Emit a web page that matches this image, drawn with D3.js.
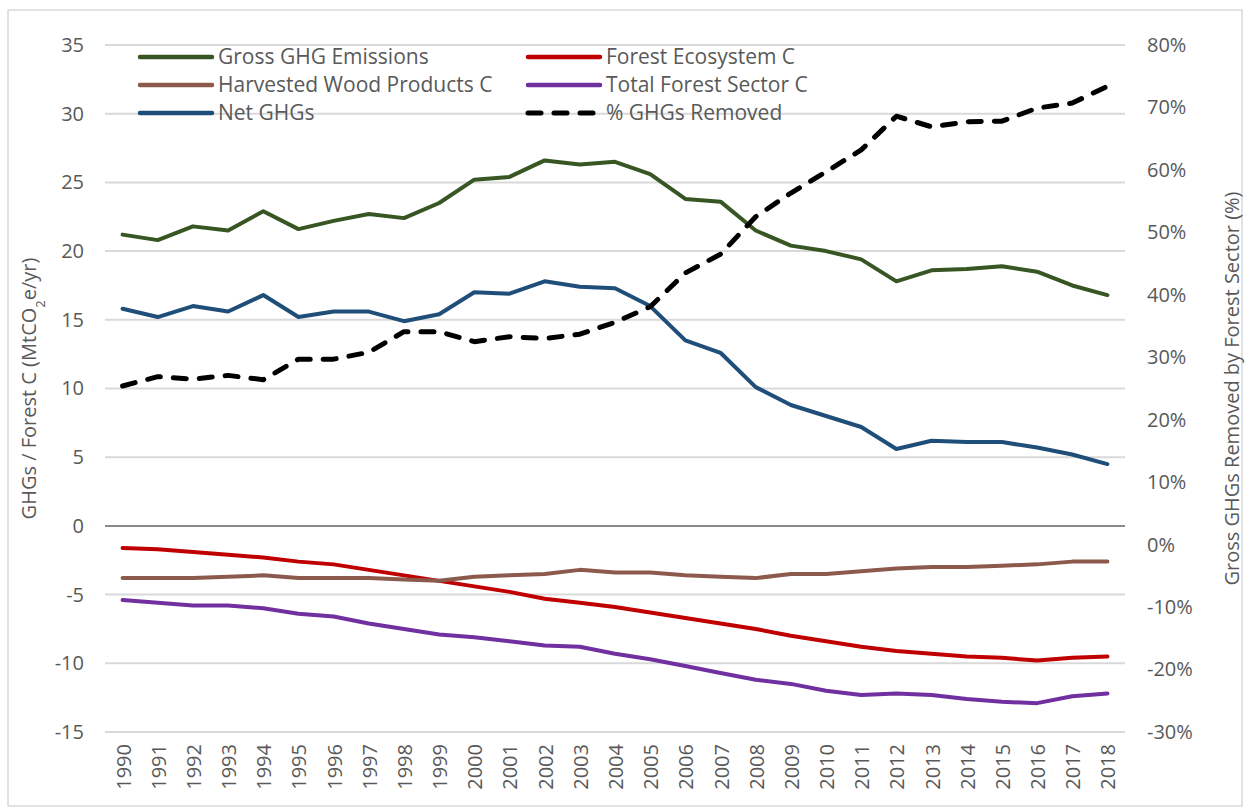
<!DOCTYPE html>
<html>
<head>
<meta charset="utf-8">
<script src="https://cdn.jsdelivr.net/npm/d3@7"></script>
<style>
    body { margin: 0; background: #fff; }
    text { font-family: "Open Sans", sans-serif; fill: #595959; }
</style>
</head>
<body>
<div id="chart"></div>
<script>

// * * * data * * *
let years = ["1990", "1991", "1992", "1993", "1994", "1995", "1996", "1997", "1998", "1999",
    "2000", "2001", "2002", "2003", "2004", "2005", "2006", "2007", "2008", "2009",
    "2010", "2011", "2012", "2013", "2014", "2015", "2016", "2017", "2018"];

let grossGHG = [21.2, 20.8, 21.8, 21.5, 22.9, 21.6, 22.2, 22.7, 22.4, 23.5,
    25.2, 25.4, 26.6, 26.3, 26.5, 25.6, 23.8, 23.6, 21.5, 20.4,
    20.0, 19.4, 17.8, 18.6, 18.7, 18.9, 18.5, 17.5, 16.8];

let netGHG = [15.8, 15.2, 16.0, 15.6, 16.8, 15.2, 15.6, 15.6, 14.9, 15.4,
    17.0, 16.9, 17.8, 17.4, 17.3, 16.0, 13.5, 12.6, 10.1, 8.8,
    8.0, 7.2, 5.6, 6.2, 6.1, 6.1, 5.7, 5.2, 4.5];

let forestEcoC = [-1.6, -1.7, -1.9, -2.1, -2.3, -2.6, -2.8, -3.2, -3.6, -4.0,
    -4.4, -4.8, -5.3, -5.6, -5.9, -6.3, -6.7, -7.1, -7.5, -8.0,
    -8.4, -8.8, -9.1, -9.3, -9.5, -9.6, -9.8, -9.6, -9.5];

let harvestedWoodC = [-3.8, -3.8, -3.8, -3.7, -3.6, -3.8, -3.8, -3.8, -3.9, -4.0,
    -3.7, -3.6, -3.5, -3.2, -3.4, -3.4, -3.6, -3.7, -3.8, -3.5,
    -3.5, -3.3, -3.1, -3.0, -3.0, -2.9, -2.8, -2.6, -2.6];

let totalForestC = [-5.4, -5.6, -5.8, -5.8, -6.0, -6.4, -6.6, -7.1, -7.5, -7.9,
    -8.1, -8.4, -8.7, -8.8, -9.3, -9.7, -10.2, -10.7, -11.2, -11.5,
    -12.0, -12.3, -12.2, -12.3, -12.6, -12.8, -12.9, -12.4, -12.2];

let pctRemoved = [25.4, 26.9, 26.5, 27.1, 26.4, 29.7, 29.7, 30.8, 34.1, 34.1,
    32.5, 33.3, 33.0, 33.7, 35.6, 38.1, 43.5, 46.5, 52.5, 56.3,
    59.7, 63.2, 68.6, 66.9, 67.7, 67.8, 69.9, 70.7, 73.4];

let leftTicks = [-15, -10, -5, 0, 5, 10, 15, 20, 25, 30, 35];
let rightTicks = [-30, -20, -10, 0, 10, 20, 30, 40, 50, 60, 70, 80];

// series settings (name, values, colour, axis, dashed)
let series = [
    {name: "Gross GHG Emissions", values: grossGHG, color: "#375623", axis: "left"},
    {name: "Forest Ecosystem C", values: forestEcoC, color: "#c00000", axis: "left"},
    {name: "Harvested Wood Products C", values: harvestedWoodC, color: "#8c5a4c", axis: "left"},
    {name: "Total Forest Sector C", values: totalForestC, color: "#7030a0", axis: "left"},
    {name: "Net GHGs", values: netGHG, color: "#1f4e79", axis: "left"},
    {name: "% GHGs Removed", values: pctRemoved, color: "#000000", axis: "right", dashed: true}
];

let width = 1250;
let height = 812;
let plot = {left: 105, right: 1125, top: 45, bottom: 732};

let svg = d3.select("#chart").append("svg")
    .attr("width", width)
    .attr("height", height);

// outer frame
svg.append("rect")
    .attr("x", 8).attr("y", 10)
    .attr("width", 1234).attr("height", 796)
    .attr("fill", "#fff")
    .attr("stroke", "#d9d9d9")
    .attr("stroke-width", 1.5);

// scales
let x = d3.scaleBand()
    .domain(years)
    .range([plot.left, plot.right]);

let yLeft = d3.scaleLinear()
    .domain([-15, 35])
    .range([plot.bottom, plot.top]);

let yRight = d3.scaleLinear()
    .domain([-30, 80])
    .range([plot.bottom, plot.top]);

// gridlines
svg.append("g")
    .selectAll("line")
    .data(leftTicks.filter(d => d !== 0))
    .enter().append("line")
    .attr("x1", plot.left).attr("x2", plot.right)
    .attr("y1", d => yLeft(d)).attr("y2", d => yLeft(d))
    .attr("stroke", "#d9d9d9")
    .attr("stroke-width", 2);

// zero line
svg.append("line")
    .attr("x1", plot.left).attr("x2", plot.right)
    .attr("y1", yLeft(0)).attr("y2", yLeft(0))
    .attr("stroke", "#8a8a8a")
    .attr("stroke-width", 2);

// left axis (plain hyphen for negatives, like the original)
let leftAxis = d3.axisLeft(yLeft)
    .tickValues(leftTicks)
    .tickSize(0)
    .tickPadding(21)
    .tickFormat(d => String(d));

svg.append("g")
    .attr("transform", `translate(${plot.left},0)`)
    .call(leftAxis)
    .call(g => g.select(".domain").remove())
    .selectAll("text")
    .style("font-size", "20px")
    .attr("fill", "#595959");

// right axis
let rightAxis = d3.axisRight(yRight)
    .tickValues(rightTicks)
    .tickSize(0)
    .tickPadding(22)
    .tickFormat(d => String(d) + "%");

svg.append("g")
    .attr("transform", `translate(${plot.right},0)`)
    .call(rightAxis)
    .call(g => g.select(".domain").remove())
    .selectAll("text")
    .style("font-size", "20px")
    .attr("fill", "#595959");

// x axis labels, rotated
svg.append("g")
    .selectAll("text")
    .data(years)
    .enter().append("text")
    .attr("transform", d => `translate(${x(d) + x.bandwidth() / 2 + 1}, ${plot.bottom + 12}) rotate(-90)`)
    .attr("text-anchor", "end")
    .attr("dy", "0.35em")
    .style("font-size", "20px")
    .text(d => d);

// axis titles
let leftTitle = svg.append("text")
    .attr("transform", `translate(36, ${(plot.top + plot.bottom) / 2}) rotate(-90)`)
    .attr("text-anchor", "middle")
    .style("font-size", "20px");
leftTitle.append("tspan").text("GHGs / Forest C (MtCO");
leftTitle.append("tspan").text("2").attr("baseline-shift", "sub").style("font-size", "13px");
leftTitle.append("tspan").text("e/yr)");

svg.append("text")
    .attr("transform", `translate(1232, ${(plot.top + plot.bottom) / 2}) rotate(-90)`)
    .attr("text-anchor", "middle")
    .attr("dy", "0.35em")
    .style("font-size", "20px")
    .text("Gross GHGs Removed by Forest Sector (%)");

// lines
series.forEach(s => {
    let yScale = s.axis === "left" ? yLeft : yRight;
    let line = d3.line()
        .x((d, i) => x(years[i]) + x.bandwidth() / 2)
        .y(d => yScale(d));

    svg.append("path")
        .datum(s.values)
        .attr("fill", "none")
        .attr("stroke", s.color)
        .attr("stroke-width", s.dashed ? 5 : 4)
        .attr("stroke-linejoin", "round")
        .attr("stroke-linecap", "round")
        .attr("stroke-dasharray", s.dashed ? "13,13" : null)
        .attr("d", line);
});

// legend, two columns of three
let legendCols = [140, 528];
let legendRows = [57, 85, 113];

let legend = svg.append("g")
    .selectAll("g")
    .data(series)
    .enter().append("g")
    .attr("transform", (d, i) => `translate(${legendCols[i % 2]}, ${legendRows[Math.floor(i / 2)]})`);

legend.append("line")
    .attr("x1", 0).attr("x2", 72)
    .attr("y1", 0).attr("y2", 0)
    .attr("stroke", d => d.color)
    .attr("stroke-width", d => d.dashed ? 5 : 4.5)
    .attr("stroke-linecap", "round")
    .attr("stroke-dasharray", d => d.dashed ? "13,13" : null);

legend.append("text")
    .attr("x", 78)
    .attr("dy", "0.35em")
    .style("font-size", "21px")
    .text(d => d.name);

</script>
</body>
</html>
